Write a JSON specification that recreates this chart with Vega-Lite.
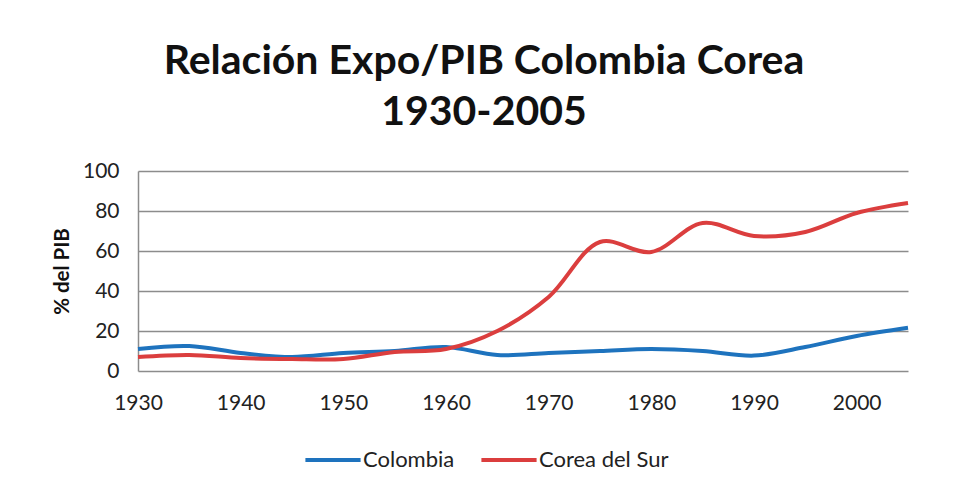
{
  "$schema": "https://vega.github.io/schema/vega-lite/v6.json",
  "autosize": "none",
  "width": 770,
  "height": 200,
  "padding": {"left": 138, "top": 171, "right": 53, "bottom": 130},
  "background": "white",
  "title": {
    "text": ["Relación Expo/PIB Colombia Corea", "1930-2005"],
    "font": "Lato",
    "fontSize": 41,
    "fontWeight": "bold",
    "color": "#111111",
    "lineHeight": 51,
    "anchor": "middle",
    "dx": -39,
    "offset": 26
  },
  "data": {
    "values": [
      {"year": 1930, "pais": "Colombia", "v": 11},
      {"year": 1935, "pais": "Colombia", "v": 12.5},
      {"year": 1940, "pais": "Colombia", "v": 9},
      {"year": 1945, "pais": "Colombia", "v": 7},
      {"year": 1950, "pais": "Colombia", "v": 9},
      {"year": 1955, "pais": "Colombia", "v": 10},
      {"year": 1960, "pais": "Colombia", "v": 12},
      {"year": 1965, "pais": "Colombia", "v": 8},
      {"year": 1970, "pais": "Colombia", "v": 9},
      {"year": 1975, "pais": "Colombia", "v": 10},
      {"year": 1980, "pais": "Colombia", "v": 11},
      {"year": 1985, "pais": "Colombia", "v": 10},
      {"year": 1990, "pais": "Colombia", "v": 7.7},
      {"year": 1995, "pais": "Colombia", "v": 12},
      {"year": 2000, "pais": "Colombia", "v": 17.5},
      {"year": 2005, "pais": "Colombia", "v": 21.6},
      {"year": 1930, "pais": "Corea del Sur", "v": 7},
      {"year": 1935, "pais": "Corea del Sur", "v": 8},
      {"year": 1940, "pais": "Corea del Sur", "v": 6.5},
      {"year": 1945, "pais": "Corea del Sur", "v": 6},
      {"year": 1950, "pais": "Corea del Sur", "v": 6},
      {"year": 1955, "pais": "Corea del Sur", "v": 9.5},
      {"year": 1960, "pais": "Corea del Sur", "v": 11},
      {"year": 1965, "pais": "Corea del Sur", "v": 20},
      {"year": 1970, "pais": "Corea del Sur", "v": 37},
      {"year": 1975, "pais": "Corea del Sur", "v": 64.5},
      {"year": 1980, "pais": "Corea del Sur", "v": 59.5},
      {"year": 1985, "pais": "Corea del Sur", "v": 74},
      {"year": 1990, "pais": "Corea del Sur", "v": 67.5},
      {"year": 1995, "pais": "Corea del Sur", "v": 69.5},
      {"year": 2000, "pais": "Corea del Sur", "v": 79},
      {"year": 2005, "pais": "Corea del Sur", "v": 84}
    ]
  },
  "mark": {"type": "line", "interpolate": "catmull-rom", "strokeWidth": 4},
  "encoding": {
    "x": {
      "field": "year",
      "type": "quantitative",
      "scale": {"domain": [1930, 2005], "nice": false, "zero": false},
      "axis": {
        "title": null,
        "values": [1930, 1940, 1950, 1960, 1970, 1980, 1990, 2000],
        "format": "d",
        "grid": false,
        "ticks": false,
        "domain": false,
        "labelFlush": false,
        "labelFont": "Lato",
        "labelFontSize": 21,
        "labelColor": "#222222",
        "labelPadding": 21
      }
    },
    "y": {
      "field": "v",
      "type": "quantitative",
      "scale": {"domain": [0, 100], "nice": false},
      "axis": {
        "title": "% del PIB",
        "titleFont": "Lato",
        "titleFontSize": 20.5,
        "titleFontWeight": "bold",
        "titleColor": "#111111",
        "titlePadding": 10,
        "values": [0, 20, 40, 60, 80, 100],
        "grid": true,
        "gridColor": "#8c8c8c",
        "gridWidth": 1.5,
        "ticks": false,
        "domain": true,
        "domainColor": "#8c8c8c",
        "domainWidth": 1.5,
        "labelFlush": false,
        "labelFont": "Lato",
        "labelFontSize": 21,
        "labelColor": "#222222",
        "labelPadding": 19
      }
    },
    "color": {
      "field": "pais",
      "type": "nominal",
      "scale": {"domain": ["Colombia", "Corea del Sur"], "range": ["#1e73be", "#db3e3e"]},
      "legend": {
        "title": null,
        "orient": "none",
        "direction": "horizontal",
        "legendX": 165,
        "legendY": 259,
        "symbolType": "stroke",
        "symbolSize": 3045,
        "symbolStrokeWidth": 4,
        "labelFont": "Lato",
        "labelFontSize": 22,
        "labelColor": "#222222",
        "labelOffset": 0,
        "columnPadding": 18
      }
    }
  },
  "config": {"view": {"stroke": null}}
}
